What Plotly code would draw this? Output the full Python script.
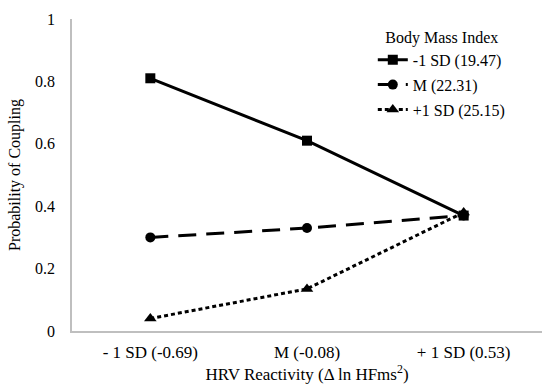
import plotly.graph_objects as go

categories = ["- 1 SD (-0.69)", "M (-0.08)", "+ 1 SD (0.53)"]
series_names = ["-1 SD (19.47)", "M (22.31)", "+1 SD (25.15)"]
low_bmi = [0.81, 0.61, 0.37]
mean_bmi = [0.30, 0.33, 0.37]
high_bmi = [0.04, 0.135, 0.38]
y_ticks = [0, 0.2, 0.4, 0.6, 0.8, 1]
y_tick_labels = ["0", "0.2", "0.4", "0.6", "0.8", "1"]

font_family = "Times New Roman, Liberation Serif, DejaVu Serif, serif"

fig = go.Figure()
styles = [
    (low_bmi, "solid", "square", 10),
    (mean_bmi, "18px,10px", "circle", 10),
    (high_bmi, "4px,3px", "triangle-up", 11),
]
for i, (name, (vals, dash, sym, size)) in enumerate(zip(series_names, styles)):
    fig.add_trace(go.Scatter(
        x=categories, y=vals, name=name, mode="lines+markers",
        legendgroup=f"g{i}",
        line=dict(color="black", width=3, dash=dash),
        marker=dict(color="black", symbol=sym, size=size),
    ))

fig.update_layout(
    width=542, height=384,
    margin=dict(l=72, r=0, t=19, b=53),
    paper_bgcolor="white", plot_bgcolor="white",
    font=dict(family=font_family, size=15, color="black"),
    showlegend=True,
    legend=dict(
        x=0.64, y=0.99, xanchor="left", yanchor="top",
        title=dict(text="Body Mass Index", side="top center",
                   font=dict(size=16, family=font_family)),
        font=dict(size=16, family=font_family), bgcolor="rgba(0,0,0,0)",
        tracegroupgap=1, itemwidth=30,
    ),
    xaxis=dict(
        type="category", range=[-0.5, 2.5], automargin=False,
        showline=True, linecolor="#bfbfbf", linewidth=1.5,
        showgrid=False, zeroline=False, ticks="",
        ticklabelstandoff=5,
        tickfont=dict(family=font_family, size=17),
        title=dict(text="HRV Reactivity (Δ ln HFms<sup>2</sup>)", standoff=1,
                   font=dict(size=17, family=font_family)),
    ),
    yaxis=dict(
        range=[0, 1], tickvals=y_ticks, ticktext=y_tick_labels, automargin=False,
        showline=True, linecolor="#bfbfbf", linewidth=1.5,
        showgrid=False, zeroline=False, ticks="",
        ticklabelstandoff=12,
        tickfont=dict(family=font_family, size=16),
        title=dict(text="Probability of Coupling", standoff=10,
                   font=dict(size=16, family=font_family)),
    ),
)

fig.write_html("out.html", config={"displayModeBar": False},
               post_script="document.body.style.margin='0';")
